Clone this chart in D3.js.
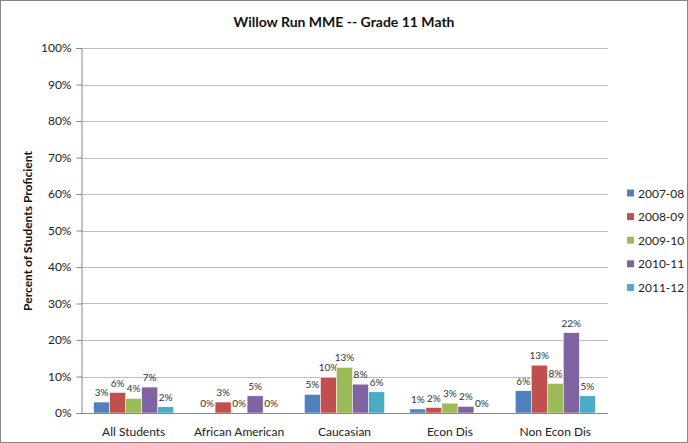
<!DOCTYPE html>
<html><head><meta charset="utf-8">
<script src="https://cdn.jsdelivr.net/npm/d3@7"></script>
<style>body{margin:0;background:#fff}svg{display:block;font-family:Lato,"Open Sans",sans-serif}</style>
</head><body><svg id="c" width="688" height="443"></svg>
<script>
const categories = ["All Students","African American","Caucasian","Econ Dis","Non Econ Dis"];
const seriesNames = ["2007-08","2008-09","2009-10","2010-11","2011-12"];
const colors = ["#4F81BD","#C0504D","#9BBB59","#8064A2","#4BACC6"];
const v0708 = [3.0, 0, 5.1, 1.1, 6.1];
const v0809 = [5.6, 3.0, 9.8, 1.5, 13.1];
const v0910 = [4.0, 0, 12.5, 2.7, 8.1];
const v1011 = [7.1, 4.7, 7.9, 1.8, 22.0];
const v1112 = [1.7, 0, 5.8, 0, 4.7];
const yTicks = [0,10,20,30,40,50,60,70,80,90,100];
const values = [v0708, v0809, v0910, v1011, v1112];

const svg = d3.select("#c");
svg.append("rect").attr("x",0.5).attr("y",0.5).attr("width",687).attr("height",442)
  .attr("fill","#fff").attr("stroke","#868686");

const L = 81, R = 608, T = 48, B = 413;
const x0 = d3.scaleBand().domain(categories).range([L,R]).paddingInner(0.24).paddingOuter(0.12);
const x1 = d3.scaleBand().domain(seriesNames).range([0,x0.bandwidth()]);
const y = d3.scaleLinear().domain([0,100]).range([B,T]);

// gridlines
svg.append("g").selectAll("line").data(yTicks.filter(d=>d>0)).join("line")
  .attr("x1",L).attr("x2",R).attr("y1",d=>Math.round(y(d))+0.5).attr("y2",d=>Math.round(y(d))+0.5)
  .attr("stroke","#BEBEBE").attr("stroke-width",1);

// y axis
const ya = svg.append("g").attr("transform",`translate(${L+0.5},0)`)
  .call(d3.axisLeft(y).tickValues(yTicks).tickFormat(d=>d+"%").tickSize(5).tickPadding(5));
ya.select(".domain").attr("stroke","#868686");
ya.selectAll(".tick line").attr("stroke","#868686");
ya.selectAll(".tick text").attr("font-size",12).attr("fill","#222").attr("font-family","Lato,'Open Sans',sans-serif");

// bars
const g = svg.append("g");
seriesNames.forEach((s,si)=>{
  g.append("g").selectAll("rect").data(categories).join("rect")
    .attr("x",(c)=>x0(c)+x1(s))
    .attr("width",x1.bandwidth())
    .attr("y",(c,i)=>y(values[si][i]))
    .attr("height",(c,i)=>B-y(values[si][i]))
    .attr("fill",colors[si])
    .attr("stroke","#fff").attr("stroke-width",0.5);
  g.append("g").selectAll("text").data(categories).join("text")
    .attr("x",(c)=>x0(c)+x1(s)+x1.bandwidth()/2)
    .attr("y",(c,i)=>y(values[si][i])-6)
    .attr("text-anchor","middle").attr("font-size",10).attr("fill","#333")
    .text((c,i)=>Math.round(values[si][i])+"%");
});

// x axis
svg.append("line").attr("x1",L).attr("x2",R).attr("y1",B+0.5).attr("y2",B+0.5).attr("stroke","#868686");
svg.append("g").selectAll("text").data(categories).join("text")
  .attr("x",c=>x0(c)+x0.bandwidth()/2).attr("y",436)
  .attr("text-anchor","middle").attr("font-size",12).attr("fill","#222").text(d=>d);

// title
svg.append("text").attr("x",344).attr("y",27).attr("text-anchor","middle")
  .attr("font-size",14).attr("font-weight","bold").attr("fill","#111").text("Willow Run MME -- Grade 11 Math");
// y title
svg.append("text").attr("transform","translate(32,231) rotate(-90)").attr("text-anchor","middle")
  .attr("font-size",12).attr("font-weight","bold").attr("fill","#111").text("Percent of Students Proficient");

// legend
const lg = svg.append("g").selectAll("g").data(seriesNames).join("g")
  .attr("transform",(d,i)=>`translate(627,${193 + i*23.6})`);
lg.append("rect").attr("x",0).attr("y",-3.5).attr("width",7).attr("height",7).attr("fill",(d,i)=>colors[i]);
lg.append("text").attr("x",11).attr("y",4.5).attr("font-size",12).attr("fill","#222").text(d=>d);
</script></body></html>
